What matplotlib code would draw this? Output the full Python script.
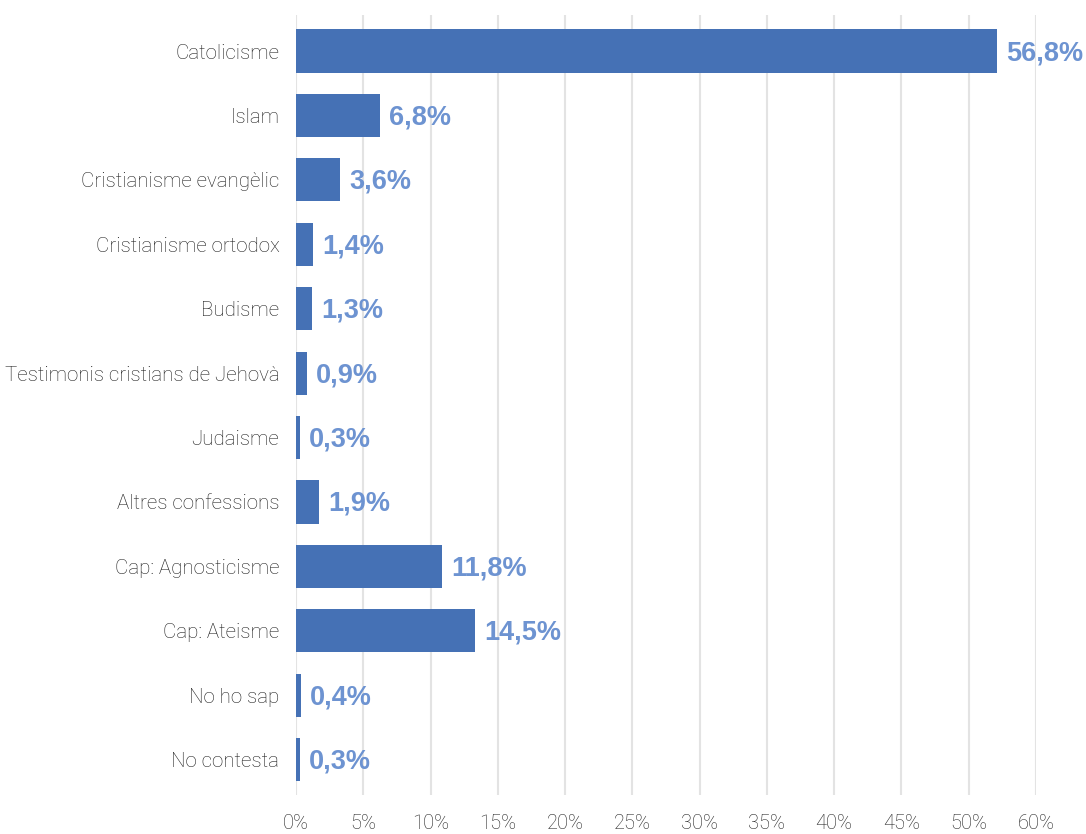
import numpy as np
import matplotlib.pyplot as plt

categories = ["Catolicisme", "Islam", "Cristianisme evangèlic", "Cristianisme ortodox",
              "Budisme", "Testimonis cristians de Jehovà", "Judaisme", "Altres confessions",
              "Cap: Agnosticisme", "Cap: Ateisme", "No ho sap", "No contesta"]
values = [56.8, 6.8, 3.6, 1.4, 1.3, 0.9, 0.3, 1.9, 11.8, 14.5, 0.4, 0.3]
# the original axis has 12 evenly spaced gridlines labelled like this
tick_labels = ["0%", "5%", "10%", "15%", "20%", "25%", "30%", "35%", "40%", "45%", "50%", "60%"]

bar_color = "#4571b5"
label_color = "#6d93d1"

fig = plt.figure(figsize=(10.86, 8.34), dpi=100)
ax = fig.add_axes([296 / 1086, 39 / 834, 740 / 1086, 780 / 834])

y = np.arange(len(categories))
ax.barh(y, values, height=0.67, color=bar_color, zorder=3)

for yi, v in zip(y, values):
    ax.text(v + 0.75, yi + 0.03, f"{v:.1f}%".replace(".", ","), va="center", ha="left",
            fontsize=19.5, fontweight="bold", color=label_color,
            family="Liberation Sans", zorder=4)

ax.set_xlim(0, 60)
ax.set_ylim(11.55, -0.56)
ax.set_xticks(np.linspace(0, 60, len(tick_labels)))
ax.set_xticklabels(tick_labels, fontsize=14.5, color="#222222", family="Roboto", fontweight="light")
ax.set_yticks(y)
ax.set_yticklabels(categories, fontsize=14.8, color="#1e1e1e", family="Roboto", fontweight="light")
ax.tick_params(axis="both", length=0)
ax.tick_params(axis="y", pad=12)
ax.tick_params(axis="x", pad=14)
ax.grid(axis="x", color="#e3e3e3", linewidth=1.5, zorder=0)
for s in ax.spines.values():
    s.set_visible(False)

fig.savefig("out.png", dpi=100)
